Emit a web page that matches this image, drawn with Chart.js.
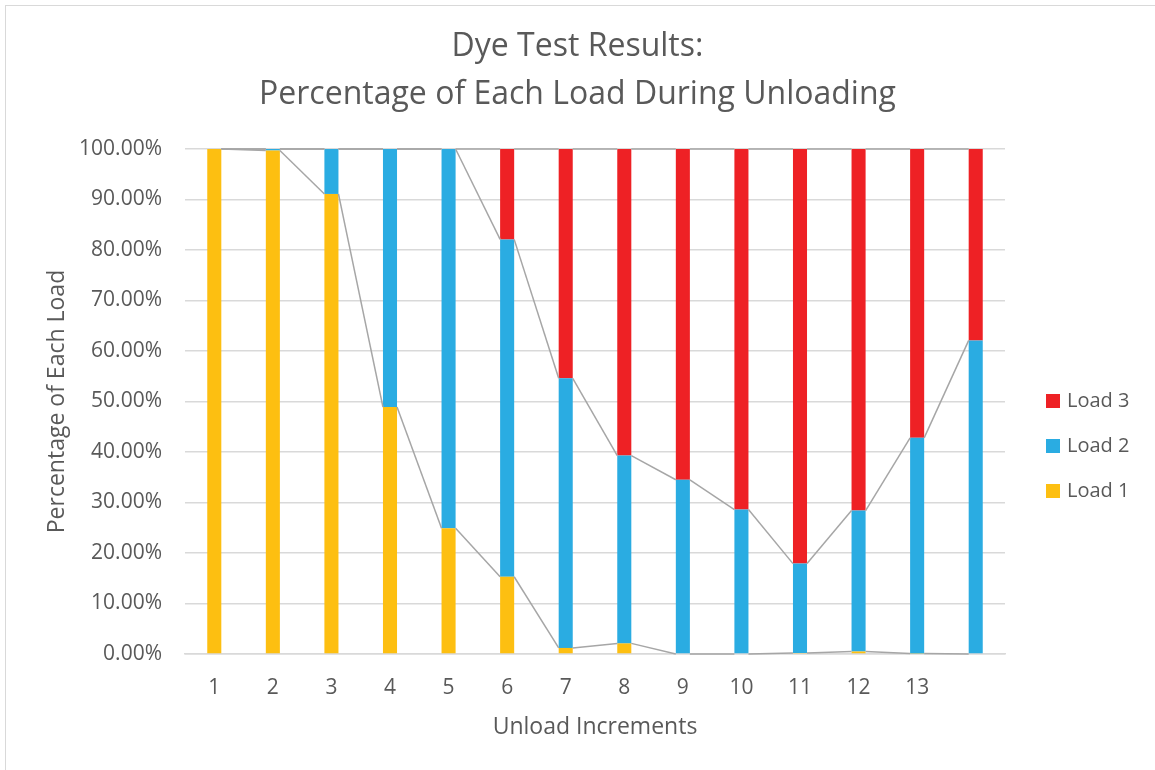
<!DOCTYPE html>
<html>
<head>
<meta charset="utf-8">
<script src="https://cdn.jsdelivr.net/npm/chart.js@4"></script>
<style>
  html, body { margin: 0; padding: 0; background: #fff; }
  #wrap { position: relative; width: 1155px; height: 770px; overflow: hidden; }
  #rand { position: absolute; left: 5px; top: 5px; width: 1160px; height: 780px;
          border-left: 1px solid #d9d9d9; border-top: 1px solid #d9d9d9; }
  canvas { position: absolute; left: 0; top: 0; }
</style>
</head>
<body>
<div id="wrap">
  <div id="rand"></div>
  <canvas id="grafiek" width="1155" height="770"></canvas>
</div>
<script>
// data (in procenten)
var categories = ['1', '2', '3', '4', '5', '6', '7', '8', '9', '10', '11', '12', '13', ''];
var load1 = [100, 99.7, 91.1, 48.9, 24.9, 15.3, 1.2, 2.1, 0, 0, 0.2, 0.5, 0.1, 0];
var load2 = [0, 0.3, 8.9, 51.1, 75.1, 66.8, 53.4, 37.2, 34.5, 28.6, 17.7, 27.9, 42.7, 62.1];
var load3 = [0, 0, 0, 0, 0, 17.9, 45.4, 60.7, 65.5, 71.4, 82.1, 71.6, 57.2, 37.9];
var yTicks = [0, 10, 20, 30, 40, 50, 60, 70, 80, 90, 100];

var tekstKleur = '#595959';
var lettertype = '"Open Sans", sans-serif';

// plugin voor de grijze verbindingslijnen tussen de bovenkanten van de staven
var serieLijnen = {
    id: 'serieLijnen',
    afterDatasetsDraw: function (chart) {
        var ctx = chart.ctx;
        ctx.save();
        ctx.strokeStyle = '#a6a6a6';
        ctx.lineWidth = 1.5;
        chart.data.datasets.forEach(function (ds, d) {
            var meta = chart.getDatasetMeta(d);
            for (var i = 0; i < meta.data.length - 1; i++) {
                var a = meta.data[i];
                var b = meta.data[i + 1];
                ctx.beginPath();
                ctx.moveTo(a.x + a.width / 2, a.y);
                ctx.lineTo(b.x - b.width / 2, b.y);
                ctx.stroke();
            }
        });
        ctx.restore();
    }
};

// eigen legenda rechts (volgorde: Load 3, Load 2, Load 1)
var legenda = {
    id: 'legenda',
    afterDraw: function (chart) {
        var ctx = chart.ctx;
        var sets = chart.data.datasets.slice().reverse();
        ctx.save();
        ctx.font = '20px ' + lettertype;
        ctx.textBaseline = 'middle';
        ctx.textAlign = 'left';
        sets.forEach(function (ds, i) {
            var y = 401 + i * 45;
            ctx.fillStyle = ds.backgroundColor;
            ctx.fillRect(1046, y - 7, 14, 14);
            ctx.fillStyle = tekstKleur;
            ctx.fillText(ds.label, 1067, y);
        });
        ctx.restore();
    }
};

var data = {
    labels: categories,
    datasets: [
        { label: 'Load 1', data: load1, backgroundColor: '#fdbf11' },
        { label: 'Load 2', data: load2, backgroundColor: '#2aace2' },
        { label: 'Load 3', data: load3, backgroundColor: '#ee2125' }
    ]
};

var chart = new Chart(document.getElementById('grafiek'), {
    type: 'bar',
    data: data,
    plugins: [serieLijnen, legenda],
    options: {
        responsive: false,
        animation: false,
        layout: { padding: 0 },
        datasets: { bar: { categoryPercentage: 1, barPercentage: 0.24 } },
        plugins: {
            legend: { display: false },
            tooltip: { enabled: false },
            title: {
                display: true,
                text: ['Dye Test Results:', 'Percentage of Each Load During Unloading'],
                color: tekstKleur,
                font: { family: lettertype, size: 32, weight: 'normal', lineHeight: 1.5 },
                padding: { top: 23, bottom: 30 }
            }
        },
        scales: {
            x: {
                stacked: true,
                grid: { display: false },
                border: { color: '#d9d9d9', width: 1.5 },
                ticks: { color: tekstKleur, font: { family: lettertype, size: 21 }, padding: 13, maxRotation: 0 },
                title: { display: true, text: 'Unload Increments', color: tekstKleur,
                         font: { family: lettertype, size: 23 }, padding: { top: 12, bottom: 29 } },
                afterFit: function (scale) { scale.height = 116; }
            },
            y: {
                stacked: true,
                min: 0,
                max: 100,
                afterBuildTicks: function (scale) {
                    scale.ticks = yTicks.map(function (v) { return { value: v }; });
                },
                grid: { color: '#d9d9d9', lineWidth: 1.5, drawTicks: false },
                border: { display: false },
                ticks: {
                    color: tekstKleur,
                    font: { family: lettertype, size: 21 },
                    padding: 23,
                    callback: function (v) { return v.toFixed(2) + '%'; }
                },
                title: { display: true, text: 'Percentage of Each Load', color: tekstKleur,
                         font: { family: lettertype, size: 23 }, padding: { top: 44, bottom: 0 } },
                afterFit: function (scale) { scale.width = 185; }
            },
            // lege as rechts om ruimte voor de legenda te houden
            rechts: {
                type: 'linear',
                position: 'right',
                grid: { display: false },
                border: { display: false },
                ticks: { display: false },
                afterFit: function (scale) { scale.width = 150; }
            }
        }
    }
});
</script>
</body>
</html>
